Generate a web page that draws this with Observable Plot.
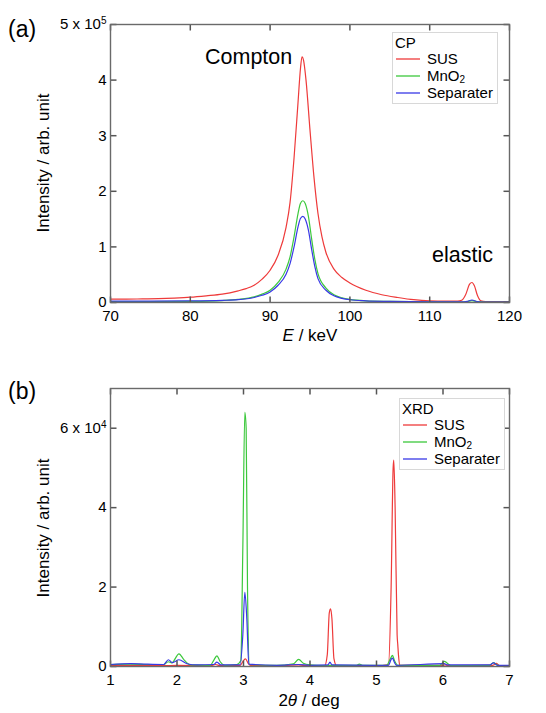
<!DOCTYPE html>
<html>
<head>
<meta charset="utf-8">
<script src="https://cdn.jsdelivr.net/npm/d3@7"></script>
<script src="https://cdn.jsdelivr.net/npm/@observablehq/plot@0.6"></script>
<style>
  body { margin: 0; background: #fff; }
  #wrap { position: relative; width: 546px; height: 713px; background: #fff; font-family: "Liberation Sans", Arial, sans-serif; color: #000; overflow: hidden; }
  .abs { position: absolute; white-space: nowrap; line-height: 1; }
  .panel { position: absolute; left: 0; }
  .legend { position: absolute; border: 1px solid #d8d8d8; background: #fff; font-size: 15px; line-height: 15px; }
  .legend .ttl { position: absolute; left: 2px; }
  .legend .row { position: absolute; left: 3px; height: 15px; }
  .legend svg { position: absolute; left: 0; top: 0; }
  .legend .lab { position: absolute; left: 31px; top: 0; }
  sub { font-size: 10px; position: relative; top: 2px; vertical-align: baseline; line-height: 0; }
</style>
</head>
<body>
<div id="wrap">
  <div id="pa" class="panel" style="top:0px"></div>
  <div id="pb" class="panel" style="top:364px"></div>
</div>
<script>
// ---------- Panel (a): Compton profile (E / keV, intensity) ----------
const seriesNames = ["SUS", "MnO2", "Separater"];
const cpSUS = [
  [70, 6000], [72, 6000], [74, 6500], [76, 7000], [78, 8000], [80, 9500], [82, 12000],
  [84, 15000], [86, 21000], [87, 25000], [88, 31000], [89, 42000], [90, 58000],
  [91, 85000], [92, 135000], [92.5, 180000], [93, 260000], [93.5, 360000], [93.8, 420000],
  [94, 442000], [94.2, 435000], [94.5, 400000], [95, 310000], [95.5, 225000], [96, 160000],
  [96.5, 118000], [97, 90000], [98, 60000], [99, 45000], [100, 35000], [102, 22000],
  [104, 14000], [106, 9000], [108, 5000], [110, 3000], [112, 2500], [113.5, 2500],
  [114, 4000], [114.5, 14000], [115, 33000], [115.3, 36000], [115.6, 30000], [116, 12000],
  [116.4, 3000], [117, 1500], [120, 1500]
];
const cpMnO2 = [
  [70, 1500], [75, 1500], [80, 2000], [84, 3500], [86, 5500], [88, 10000], [89, 15000],
  [90, 22000], [91, 36000], [92, 60000], [92.5, 82000], [93, 118000], [93.5, 160000],
  [93.8, 178000], [94.1, 183000], [94.4, 178000], [94.8, 155000], [95.2, 115000],
  [95.6, 78000], [96, 52000], [97, 26000], [98, 14000], [99, 8500], [100, 5500],
  [102, 3000], [105, 2000], [110, 1000], [114, 800], [114.7, 1500], [115.3, 3500],
  [115.9, 1500], [117, 600], [120, 500]
];
const cpSep = [
  [70, 2500], [75, 2500], [80, 2800], [84, 3800], [86, 5000], [88, 9000], [89, 13000],
  [90, 19000], [91, 31000], [92, 51000], [92.5, 70000], [93, 100000], [93.5, 136000],
  [93.8, 151000], [94.1, 155000], [94.4, 150000], [94.8, 130000], [95.2, 96000],
  [95.6, 65000], [96, 43000], [97, 22000], [98, 12000], [99, 7500], [100, 5000],
  [102, 3000], [105, 2000], [110, 1200], [114, 1000], [114.7, 2000], [115.3, 4500],
  [115.9, 1800], [117, 800], [120, 700]
];
const cpXTicks = [70, 80, 90, 100, 110, 120];
const cpYTicks = [0, 100000, 200000, 300000, 400000, 500000];

// ---------- Panel (b): XRD (2theta / deg, intensity) ----------
const xrdSUS = [
  [1.0, 300], [1.5, 300], [1.8, 200], [2.0, 300], [2.5, 200], [2.58, 500], [2.65, 200],
  [2.95, 300], [3.0, 1500], [3.03, 1900], [3.07, 800], [3.12, 200], [3.5, 200], [3.83, 400],
  [3.95, 200], [4.22, 200], [4.26, 3000], [4.29, 13500], [4.31, 14500], [4.33, 12000],
  [4.36, 2000], [4.4, 200], [5.0, 200], [5.18, 500], [5.22, 20000], [5.25, 50000],
  [5.26, 52000], [5.28, 40000], [5.31, 8000], [5.32, 5500], [5.33, 3000], [5.35, 300],
  [6.0, 300], [6.03, 400], [6.1, 200], [6.75, 300], [6.8, 800], [6.85, 200], [7.0, 200]
];
const xrdMnO2 = [
  [1.0, 500], [1.3, 600], [1.6, 500], [1.8, 500], [1.87, 1200], [1.92, 900], [2.03, 3200],
  [2.1, 1800], [2.2, 400], [2.5, 300], [2.55, 1500], [2.6, 2700], [2.65, 1200], [2.72, 300],
  [2.9, 500], [2.96, 1500], [2.99, 30000], [3.02, 64000], [3.04, 60000], [3.06, 20000],
  [3.09, 500], [3.5, 300], [3.75, 700], [3.83, 1800], [3.9, 800], [4.0, 400], [4.2, 200],
  [4.3, 300], [4.7, 300], [4.74, 600], [4.8, 300], [5.15, 300], [5.21, 2000], [5.24, 2800],
  [5.27, 1500], [5.32, 300], [5.95, 300], [6.02, 1300], [6.06, 900], [6.12, 200],
  [6.7, 300], [6.76, 1000], [6.8, 500], [6.85, 200], [7.0, 200]
];
const xrdSep = [
  [1.0, 500], [1.3, 700], [1.5, 600], [1.8, 500], [1.87, 1700], [1.93, 1000], [2.03, 1700],
  [2.15, 700], [2.3, 400], [2.55, 500], [2.6, 1100], [2.66, 400], [2.95, 400], [2.99, 8000],
  [3.02, 18700], [3.05, 12000], [3.08, 600], [3.5, 300], [3.83, 500], [4.0, 300],
  [4.27, 400], [4.3, 1100], [4.33, 400], [5.18, 300], [5.22, 1800], [5.24, 2100],
  [5.27, 1000], [5.3, 300], [6.02, 700], [6.06, 400], [6.7, 400], [6.76, 900], [6.82, 300],
  [7.0, 300]
];
const xrdXTicks = [1, 2, 3, 4, 5, 6, 7];
const xrdYTicks = [0, 20000, 40000, 60000];

const seriesColors = ["#ee3a3a", "#3cc83c", "#3838e6"];

function rows(list) {
  const out = [];
  list.forEach(([name, pts]) => pts.forEach(([x, y]) => out.push({x, y, s: name})));
  return out;
}

const W = 546, H = 347, ML = 110, MR = 37, MT = 24, MB = 45;
const innerW = W - ML - MR, innerH = H - MT - MB;
const TICK = 6;
const frameColor = "#6a6a6a";
const font = "Liberation Sans, Arial, sans-serif";

function makePanel({data, xDomain, yDomain, xTicks, yTicks, xFmt, yFmt}) {
  // tick length of TICK pixels expressed in each scale's units
  const tx = (xDomain[1] - xDomain[0]) * TICK / innerW;
  const ty = (yDomain[1] - yDomain[0]) * TICK / innerH;
  const [x0, x1] = xDomain, [y0, y1] = yDomain;
  const tickStyle = {stroke: "#555", strokeWidth: 1.5};
  return Plot.plot({
    width: W, height: H,
    marginLeft: ML, marginRight: MR, marginTop: MT, marginBottom: MB,
    style: {fontFamily: font, fontSize: "15px", background: "white", color: "black"},
    x: {domain: xDomain},
    y: {domain: yDomain},
    color: {domain: seriesNames, range: seriesColors},
    marks: [
      Plot.line(data, {x: "x", y: "y", z: "s", stroke: "s", strokeWidth: 1.2, curve: "monotone-x"}),
      // inward ticks on all four sides
      Plot.link(xTicks, {x1: d => d, x2: d => d, y1: () => y0, y2: () => y0 + ty, ...tickStyle}),
      Plot.link(xTicks, {x1: d => d, x2: d => d, y1: () => y1, y2: () => y1 - ty, ...tickStyle}),
      Plot.link(yTicks, {y1: d => d, y2: d => d, x1: () => x0, x2: () => x0 + tx, ...tickStyle}),
      Plot.link(yTicks, {y1: d => d, y2: d => d, x1: () => x1, x2: () => x1 - tx, ...tickStyle}),
      Plot.frame({stroke: frameColor, strokeWidth: 1.4}),
      // tick labels
      Plot.axisX({anchor: "bottom", ticks: xTicks, tickSize: 0, tickPadding: 8, tickFormat: xFmt, fill: "black", label: null, fontSize: 15}),
      Plot.axisY({anchor: "left", ticks: yTicks, tickSize: 0, tickPadding: 4, tickFormat: yFmt, fill: "black", label: null, fontSize: 15})
    ]
  });
}

const chartA = makePanel({
  data: rows([["SUS", cpSUS], ["MnO2", cpMnO2], ["Separater", cpSep]]),
  xDomain: [70, 120], yDomain: [0, 500000], xTicks: cpXTicks, yTicks: cpYTicks,
  xFmt: d => String(d),
  yFmt: d => d === 500000 ? "5 x 10|5" : String(d / 100000)
});
const chartB = makePanel({
  data: rows([["SUS", xrdSUS], ["MnO2", xrdMnO2], ["Separater", xrdSep]]),
  xDomain: [1, 7], yDomain: [0, 70000], xTicks: xrdXTicks, yTicks: xrdYTicks,
  xFmt: d => String(d),
  yFmt: d => d === 60000 ? "6 x 10|4" : String(d / 10000)
});
document.getElementById("pa").appendChild(chartA);
document.getElementById("pb").appendChild(chartB);

// superscripts on the exponent tick labels
d3.selectAll("svg text").each(function() {
  const t = this.textContent;
  if (t.includes("|")) {
    const [base, exp] = t.split("|");
    const sel = d3.select(this);
    sel.text(null);
    sel.append("tspan").text(base);
    sel.append("tspan").attr("dy", "-0.55em").attr("font-size", "10px").text(exp);
  }
});

// ---------- overlay text ----------
const wrap = document.getElementById("wrap");
function addText(html, css) {
  const d = document.createElement("div");
  d.className = "abs";
  d.innerHTML = html;
  Object.assign(d.style, css);
  wrap.appendChild(d);
  return d;
}
addText("(a)", {left: "8px", top: "18px", fontSize: "23px"});
addText("(b)", {left: "8px", top: "380px", fontSize: "23px"});
addText("Compton", {left: "205px", top: "47px", fontSize: "21.5px"});
addText("elastic", {left: "432px", top: "245px", fontSize: "21.5px"});
addText("<i>E</i> / keV", {left: "310px", top: "327px", fontSize: "17px", transform: "translateX(-50%)"});
addText("2<i>θ</i> / deg", {left: "309px", top: "692px", fontSize: "17px", transform: "translateX(-50%)"});
addText("Intensity / arb. unit", {left: "43px", top: "163px", fontSize: "17px", transform: "translate(-50%,-50%) rotate(-90deg)"});
addText("Intensity / arb. unit", {left: "43px", top: "528px", fontSize: "17px", transform: "translate(-50%,-50%) rotate(-90deg)"});

function addLegend(title, left, top, width, height) {
  const box = document.createElement("div");
  box.className = "legend";
  Object.assign(box.style, {left: left + "px", top: top + "px", width: width + "px", height: height + "px"});
  const labels = ["SUS", "MnO<sub>2</sub>", "Separater"];
  let html = `<div class="ttl" style="top:2px">${title}</div>`;
  labels.forEach((lab, i) => {
    html += `<div class="row" style="top:${18 + i * 17}px"><svg width="26" height="15"><line x1="0" x2="24" y1="8" y2="8" stroke="${seriesColors[i]}" stroke-width="1.3"/></svg><span class="lab">${lab}</span></div>`;
  });
  box.innerHTML = html;
  wrap.appendChild(box);
}
addLegend("CP", 392, 32, 104, 70);
addLegend("XRD", 399, 398, 104, 70);
</script>
</body>
</html>
